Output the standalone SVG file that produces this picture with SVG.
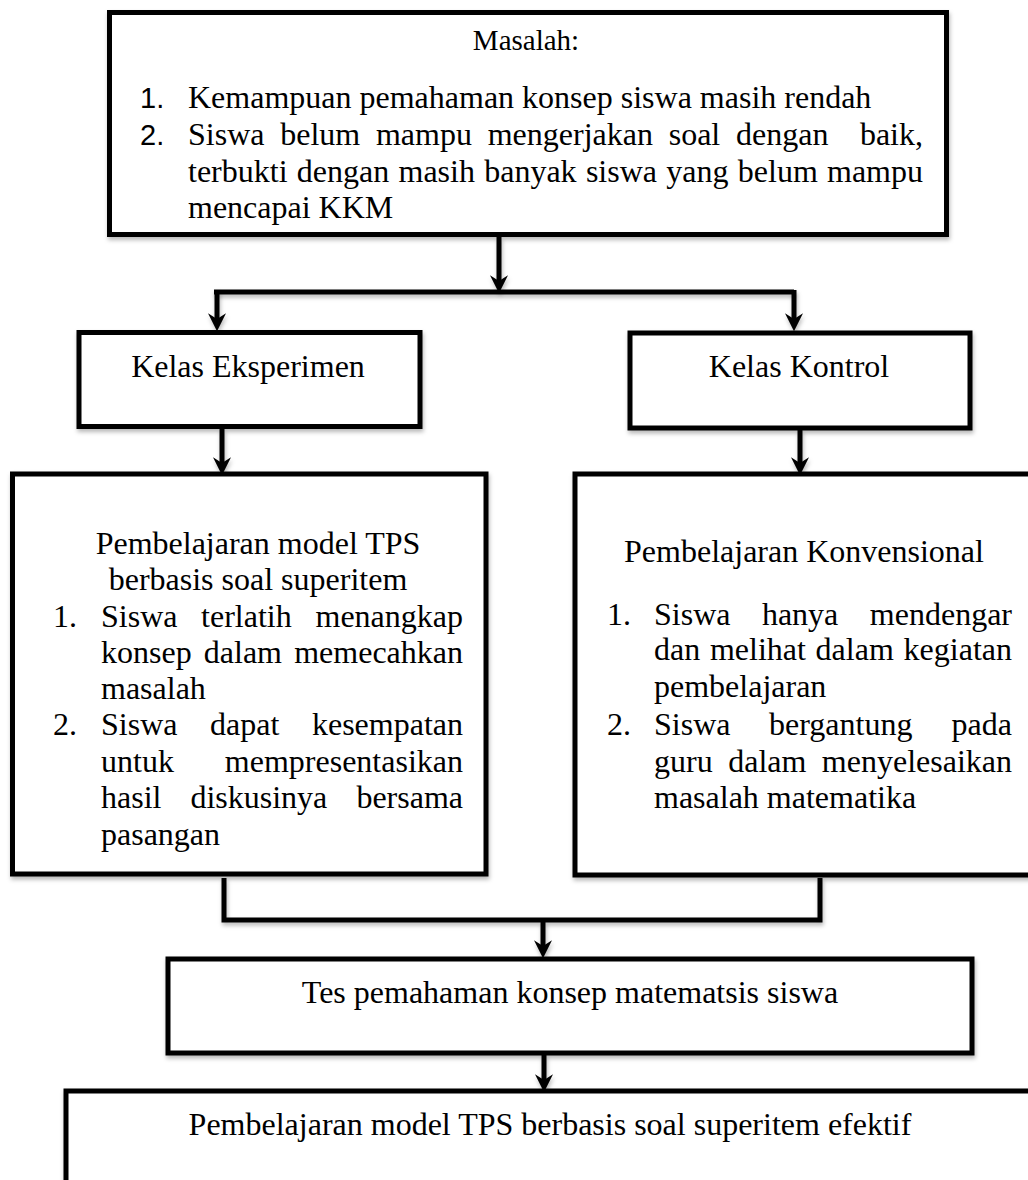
<svg xmlns="http://www.w3.org/2000/svg" width="1028" height="1180" viewBox="0 0 1028 1180">
<style>
  .box { fill: #ffffff; stroke: #000000; stroke-width: 5; filter: url(#sh); }
  .conn { fill: none; stroke: #000000; stroke-width: 5; filter: url(#sh); }
  .t { font-family: "Liberation Serif", "Times New Roman", serif; font-size: 32px; fill: #000000; }
  .t29 { font-family: "Liberation Serif", "Times New Roman", serif; font-size: 29px; fill: #000000; }
  .num { font-family: "Liberation Sans", Arial, sans-serif; font-size: 29px; fill: #000000; }
  .c { text-anchor: middle; }
  .e { text-anchor: end; }
</style>
<defs>
  <filter id="sh" filterUnits="userSpaceOnUse" x="0" y="0" width="1028" height="1180">
    <feDropShadow dx="1" dy="3" stdDeviation="2" flood-color="#000000" flood-opacity="0.28"/>
  </filter>
  <marker id="arr" markerUnits="userSpaceOnUse" markerWidth="18" markerHeight="18" viewBox="0 0 16 16" refX="6" refY="8" orient="auto">
    <path d="M0,0 L16,8 L0,16 L5,8 Z" fill="#000000"/>
  </marker>
</defs>
<rect width="1028" height="1180" fill="#ffffff"/>

<g id="connectors">
  <path class="conn" d="M499,237 V282" marker-end="url(#arr)"/>
  <path class="conn" d="M214,292 H794"/>
  <path class="conn" d="M217,290 V320" marker-end="url(#arr)"/>
  <path class="conn" d="M794,290 V320" marker-end="url(#arr)"/>
  <path class="conn" d="M222,429 V464" marker-end="url(#arr)"/>
  <path class="conn" d="M800,430 V464" marker-end="url(#arr)"/>
  <path class="conn" d="M224,878 V920 H820 V878"/>
  <path class="conn" d="M543,922 V947" marker-end="url(#arr)"/>
  <path class="conn" d="M544,1055 V1081" marker-end="url(#arr)"/>
</g>

<g id="node-masalah">
  <rect class="box" x="109.5" y="12.5" width="837" height="222"/>
  <text class="t29 c" x="526" y="50">Masalah:</text>
  <text class="num" x="140" y="108">1.</text>
  <text class="t" x="188" y="108">Kemampuan pemahaman konsep siswa masih rendah</text>
  <text class="num" x="140" y="145">2.</text>
  <text class="t" y="145"><tspan x="188">Siswa</tspan><tspan x="280.2">belum</tspan><tspan x="375.9">mampu</tspan><tspan x="487.7">mengerjakan</tspan><tspan x="668.7">soal</tspan><tspan x="736">dengan</tspan></text>
  <text class="t e" x="923" y="145">baik,</text>
  <text class="t" y="182"><tspan x="188">terbukti</tspan><tspan x="296.8">dengan</tspan><tspan x="398.5">masih</tspan><tspan x="484.2">banyak</tspan><tspan x="585.9">siswa</tspan><tspan x="666.3">yang</tspan><tspan x="737.8">belum</tspan></text>
  <text class="t e" x="923" y="182">mampu</text>
  <text class="t" x="188" y="218">mencapai KKM</text>
</g>

<g id="node-eksperimen">
  <rect class="box" x="79" y="332.5" width="341" height="94"/>
  <text class="t c" x="248" y="377">Kelas Eksperimen</text>
</g>

<g id="node-kontrol">
  <rect class="box" x="630" y="333" width="340" height="95"/>
  <text class="t c" x="799" y="377">Kelas Kontrol</text>
</g>

<g id="node-tps">
  <rect class="box" x="12.5" y="474" width="473.5" height="400"/>
  <text class="t c" x="258" y="554">Pembelajaran model TPS</text>
  <text class="t c" x="258" y="590">berbasis soal superitem</text>
  <text class="t" x="53" y="627">1.</text>
  <text class="t" y="627"><tspan x="101">Siswa</tspan><tspan x="201.1">terlatih</tspan></text>
  <text class="t e" x="463" y="627">menangkap</text>
  <text class="t" y="663"><tspan x="101">konsep</tspan><tspan x="203.8">dalam</tspan></text>
  <text class="t e" x="463" y="663">memecahkan</text>
  <text class="t" x="101" y="699">masalah</text>
  <text class="t" x="53" y="735">2.</text>
  <text class="t" y="735"><tspan x="101">Siswa</tspan><tspan x="210">dapat</tspan></text>
  <text class="t e" x="463" y="735">kesempatan</text>
  <text class="t" x="101" y="772">untuk</text>
  <text class="t e" x="463" y="772">mempresentasikan</text>
  <text class="t" y="808"><tspan x="101">hasil</tspan><tspan x="190.4">diskusinya</tspan></text>
  <text class="t e" x="463" y="808">bersama</text>
  <text class="t" x="101" y="845">pasangan</text>
</g>

<g id="node-konvensional">
  <rect class="box" x="575" y="474" width="480" height="401"/>
  <text class="t c" x="804" y="562">Pembelajaran Konvensional</text>
  <text class="t" x="607" y="625">1.</text>
  <text class="t" y="625"><tspan x="654">Siswa</tspan><tspan x="761.9">hanya</tspan></text>
  <text class="t e" x="1012" y="625">mendengar</text>
  <text class="t" y="660"><tspan x="654">dan</tspan><tspan x="709.9">melihat</tspan><tspan x="815.6">dalam</tspan></text>
  <text class="t e" x="1012" y="660">kegiatan</text>
  <text class="t" x="654" y="697">pembelajaran</text>
  <text class="t" x="607" y="735">2.</text>
  <text class="t" y="735"><tspan x="654">Siswa</tspan><tspan x="769">bergantung</tspan></text>
  <text class="t e" x="1012" y="735">pada</text>
  <text class="t" y="772"><tspan x="654">guru</tspan><tspan x="728.2">dalam</tspan></text>
  <text class="t e" x="1012" y="772">menyelesaikan</text>
  <text class="t" x="654" y="808">masalah matematika</text>
</g>

<g id="node-tes">
  <rect class="box" x="168" y="959" width="804" height="94"/>
  <text class="t c" x="570" y="1003">Tes pemahaman konsep matematsis siswa</text>
</g>

<g id="node-hasil">
  <rect class="box" x="66" y="1091" width="1000" height="140"/>
  <text class="t c" x="550" y="1135">Pembelajaran model TPS berbasis soal superitem efektif</text>
</g>
</svg>
